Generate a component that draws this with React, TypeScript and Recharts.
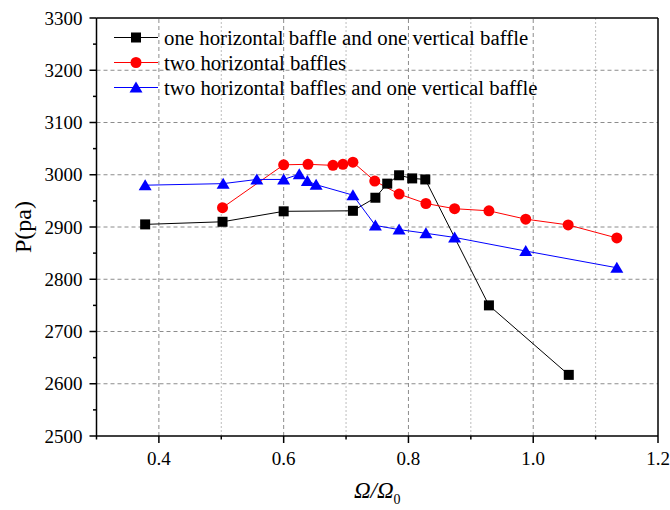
import React from 'react';
import { LineChart, Line, XAxis, YAxis, ReferenceLine, Legend } from 'recharts';

// ---- data ----
const blackX = [0.378, 0.502, 0.600, 0.711, 0.747, 0.766, 0.785, 0.806, 0.827, 0.929, 1.057];
const blackY = [2905, 2910, 2930, 2931, 2956, 2983, 2999, 2993, 2991, 2750, 2617];

const redX = [0.502, 0.600, 0.639, 0.679, 0.695, 0.711, 0.746, 0.785, 0.828, 0.874, 0.929, 0.988, 1.056, 1.134];
const redY = [2937, 3019, 3020, 3018, 3020, 3024, 2988, 2963, 2945, 2935, 2931, 2915, 2904, 2879];

const blueX = [0.378, 0.503, 0.557, 0.600, 0.625, 0.638, 0.652, 0.711, 0.747, 0.785, 0.828, 0.874, 0.988, 1.134];
const blueY = [2980, 2983, 2991, 2991, 3001, 2988, 2981, 2961, 2903, 2895, 2888, 2880, 2854, 2822];

const seriesNames = [
  'one horizontal baffle and one vertical baffle',
  'two horizontal baffles',
  'two horizontal baffles and one vertical baffle',
];

const xTicks = [0.3, 0.4, 0.5, 0.6, 0.7, 0.8, 0.9, 1.0, 1.1, 1.2];
const xLabelTicks = [0.4, 0.6, 0.8, 1.0, 1.2];
const yTicks = [2500, 2550, 2600, 2650, 2700, 2750, 2800, 2850, 2900, 2950, 3000, 3050, 3100, 3150, 3200, 3250, 3300];
const yLabelTicks = [2500, 2600, 2700, 2800, 2900, 3000, 3100, 3200, 3300];
const xMajorGrid = [0.4, 0.6, 0.8, 1.0];
const xMinorGrid = [0.5, 0.7, 0.9, 1.1];
const yGrid = [2600, 2700, 2800, 2900, 3000, 3100, 3200];

const toPoints = (xs: number[], ys: number[]) => xs.map((x, i) => ({ x, y: ys[i] }));
const blackData = toPoints(blackX, blackY);
const redData = toPoints(redX, redY);
const blueData = toPoints(blueX, blueY);

const FONT = '"Liberation Serif", "Times New Roman", serif';

type Shape = 'square' | 'circle' | 'triangle';

const seriesDefs: { name: string; color: string; shape: Shape; data: { x: number; y: number }[] }[] = [
  { name: seriesNames[0], color: '#000000', shape: 'square', data: blackData },
  { name: seriesNames[1], color: '#ff0000', shape: 'circle', data: redData },
  { name: seriesNames[2], color: '#0000ff', shape: 'triangle', data: blueData },
];

const MarkerShape = ({ cx, cy, shape, color }: { cx: number; cy: number; shape: Shape; color: string }) => {
  if (cx == null || cy == null) return null;
  if (shape === 'square') {
    return <rect x={cx - 5} y={cy - 5} width={10} height={10} fill={color} />;
  }
  if (shape === 'circle') {
    return <circle cx={cx} cy={cy} r={5.5} fill={color} />;
  }
  return (
    <polygon
      points={`${cx},${cy - 6} ${cx - 6.5},${cy + 5} ${cx + 6.5},${cy + 5}`}
      fill={color}
    />
  );
};

const makeDot = (shape: Shape, color: string) => (props: any) => (
  <MarkerShape key={`${shape}-${props.index}`} cx={props.cx} cy={props.cy} shape={shape} color={color} />
);

const approxIn = (v: number, arr: number[]) => arr.some((a) => Math.abs(a - v) < 1e-6);

const XTick = (props: any) => {
  const { x, y, payload } = props;
  const v = payload.value as number;
  const axisY = y - 13;
  const isLabel = approxIn(v, xLabelTicks);
  const len = isLabel ? 7 : 3.5;
  return (
    <g>
      <line x1={x} x2={x} y1={axisY} y2={axisY + len} stroke="#000" strokeWidth={1.5} />
      {isLabel && (
        <text
          x={x}
          y={axisY + 29}
          textAnchor="middle"
          fontSize={19}
          fontFamily={FONT}
          style={{ fontFamily: FONT }}
          fill="#000"
        >
          {v.toFixed(1)}
        </text>
      )}
    </g>
  );
};

const YTick = (props: any) => {
  const { x, y, payload } = props;
  const v = payload.value as number;
  const axisX = x + 13;
  const isLabel = approxIn(v, yLabelTicks);
  const len = isLabel ? 7 : 3.5;
  return (
    <g>
      <line x1={axisX - len} x2={axisX} y1={y} y2={y} stroke="#000" strokeWidth={1.5} />
      {isLabel && (
        <text
          x={axisX - 14}
          y={y + 6.5}
          textAnchor="end"
          fontSize={19}
          fontFamily={FONT}
          style={{ fontFamily: FONT }}
          fill="#000"
        >
          {v}
        </text>
      )}
    </g>
  );
};

const XTitle = (props: any) => {
  const vb = props.viewBox || {};
  const cx = vb.x + vb.width / 2;
  const by = vb.y + 62;
  return (
    <text x={cx} y={by} textAnchor="middle" fontFamily={FONT} style={{ fontFamily: FONT }} fontSize={23} fill="#000">
      <tspan fontStyle="italic">Ω/Ω</tspan>
      <tspan fontSize={14} dy={6}>0</tspan>
    </text>
  );
};

const YTitle = (props: any) => {
  const vb = props.viewBox || {};
  const cx = 23;
  const cy = vb.y + vb.height / 2;
  return (
    <text
      x={cx}
      y={cy}
      transform={`rotate(-90, ${cx}, ${cy})`}
      textAnchor="middle"
      dominantBaseline="central"
      fontFamily={FONT}
      style={{ fontFamily: FONT }}
      fontSize={24}
      fill="#000"
    >
      P(pa)
    </text>
  );
};

const LegendContent = () => (
  <div style={{ fontFamily: FONT, fontSize: 20.8, color: '#000' }}>
    {seriesDefs.map((s) => (
      <div key={s.name} style={{ display: 'flex', alignItems: 'center', height: 25, whiteSpace: 'nowrap' }}>
        <svg width={44} height={25} style={{ display: 'block' }}>
          <line x1={0} x2={44} y1={12.5} y2={12.5} stroke={s.color} strokeWidth={1} />
          <MarkerShape cx={22} cy={12.5} shape={s.shape} color={s.color} />
        </svg>
        <span style={{ marginLeft: 6, lineHeight: '25px' }}>{s.name}</span>
      </div>
    ))}
  </div>
);

export default function App() {
  return (
    <div style={{ position: 'absolute', left: 0, top: 0, width: 670, height: 510, background: '#fff' }}>
      <LineChart width={670} height={510} margin={{ top: 18, right: 12, bottom: 0, left: 0 }}>
        <XAxis
          type="number"
          dataKey="x"
          domain={[0.3, 1.2]}
          ticks={xTicks}
          interval={0}
          allowDataOverflow
          height={74}
          tickSize={7}
          tickMargin={6}
          tickLine={false}
          axisLine={{ stroke: '#000', strokeWidth: 1.5 }}
          tick={XTick}
          label={<XTitle />}
        />
        <YAxis
          type="number"
          dataKey="y"
          domain={[2500, 3300]}
          ticks={yTicks}
          interval={0}
          allowDataOverflow
          width={96.5}
          tickSize={7}
          tickMargin={6}
          tickLine={false}
          axisLine={{ stroke: '#000', strokeWidth: 1.5 }}
          tick={YTick}
          label={<YTitle />}
        />
        {xMinorGrid.map((v) => (
          <ReferenceLine key={`xm${v}`} x={v} stroke="#bdbdbd" strokeDasharray="2 2" strokeWidth={1} />
        ))}
        {xMajorGrid.map((v) => (
          <ReferenceLine key={`xM${v}`} x={v} stroke="#8c8c8c" strokeDasharray="4 3" strokeWidth={1} />
        ))}
        {yGrid.map((v) => (
          <ReferenceLine key={`y${v}`} y={v} stroke="#8c8c8c" strokeDasharray="4 3" strokeWidth={1} />
        ))}
        <ReferenceLine x={1.2} stroke="#000" strokeWidth={1.5} />
        <ReferenceLine y={3300} stroke="#000" strokeWidth={1.5} />
        {seriesDefs.map((s) => (
          <Line
            key={s.name}
            name={s.name}
            data={s.data}
            dataKey="y"
            type="linear"
            stroke={s.color}
            strokeWidth={1}
            dot={makeDot(s.shape, s.color)}
            activeDot={false}
            isAnimationActive={false}
          />
        ))}
        <Legend
          layout="vertical"
          align="center"
          verticalAlign="middle"
          content={<LegendContent />}
          wrapperStyle={{ left: 114, top: 25, width: 480, height: 75 }}
        />
      </LineChart>
    </div>
  );
}
